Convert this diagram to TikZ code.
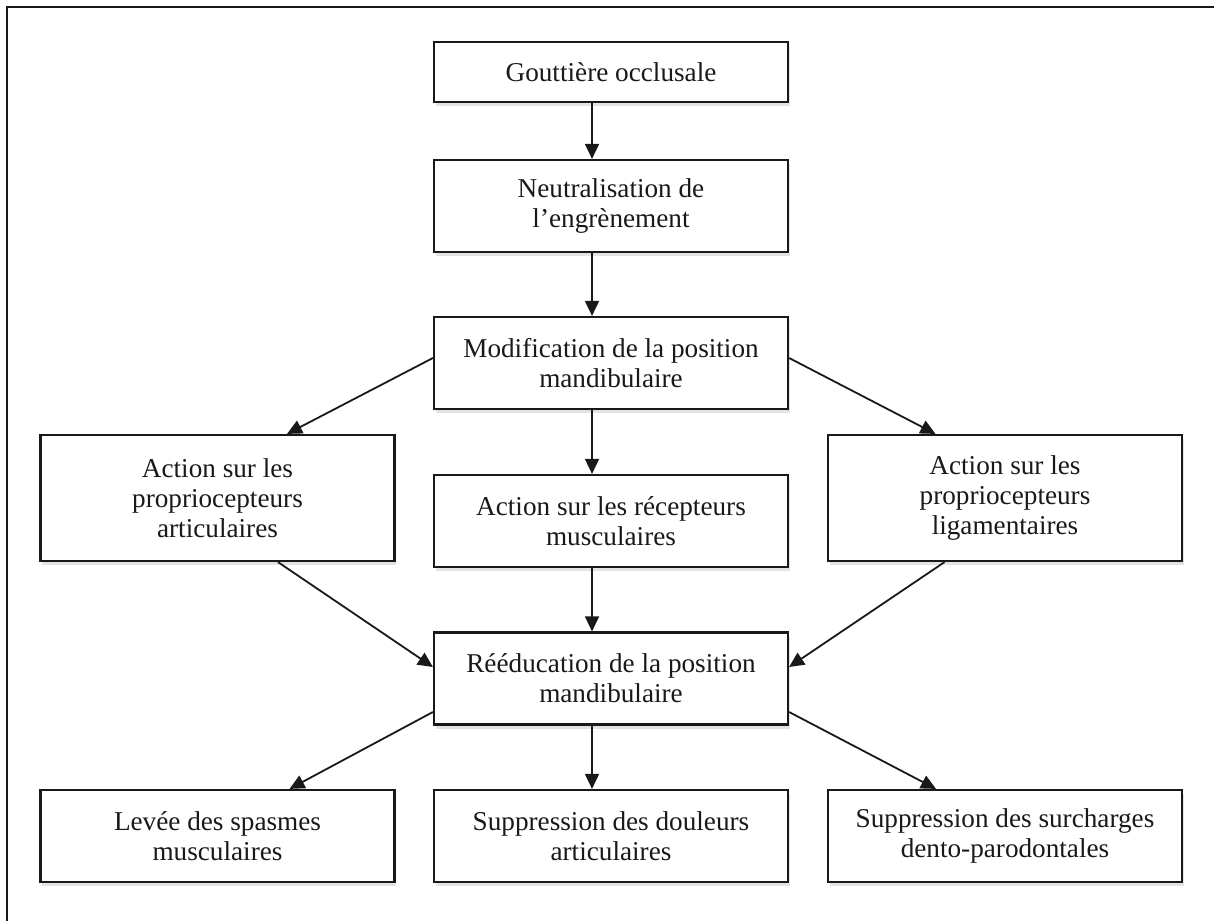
\documentclass[tikz,border=0pt]{standalone}
\usepackage{fontspec}
\setmainfont{Liberation Serif}
\usetikzlibrary{arrows.meta,shadows}
\begin{document}
\begin{tikzpicture}[x=0.5pt,y=-0.5pt,
  box/.style={draw=black!90, line width=1.1pt, fill=white, align=center,
    minimum width=177pt, inner sep=0pt, text=black!90,
    font=\fontsize{13.6}{15}\selectfont,
    drop shadow={opacity=0.22, shadow xshift=0.8pt, shadow yshift=-2pt}},
  boxS/.style={box, minimum height=46pt},
  boxL/.style={box, minimum height=63pt},
  boxT/.style={box, minimum height=30pt},
  arr/.style={draw=black!90, line width=0.9pt, -{Triangle[width=7pt,length=7.5pt]}},
  frame/.style={draw=black!90, line width=1pt}
]
\useasboundingbox (0,0) rectangle (1214,921);
\draw[frame] (7,921) -- (7,7) -- (1214,7);

\node[boxT] (g)  at (611,72)    {Gouttière occlusale};
\node[boxS] (n)  at (611,206)   {Neutralisation de\\l’engrènement};
\node[boxS] (m)  at (611,363)   {Modification de la position\\mandibulaire};
\node[boxL] (pa) at (217.5,498) {Action sur les\\propriocepteurs\\articulaires};
\node[boxS] (rm) at (611,521)   {Action sur les récepteurs\\musculaires};
\node[boxL] (pl) at (1005,498)  {Action sur les\\propriocepteurs\\ligamentaires};
\node[boxS] (r)  at (611,678.5) {Rééducation de la position\\mandibulaire};
\node[boxS] (b1) at (217.5,836) {Levée des spasmes\\musculaires};
\node[boxS] (b2) at (611,836)   {Suppression des douleurs\\articulaires};
\node[boxS] (b3) at (1005,836)  {Suppression des surcharges\\dento-parodontales};

\draw[arr] ([xshift=-9.5pt]g.south) -- ([xshift=-9.5pt]n.north);
\draw[arr] ([xshift=-9.5pt]n.south) -- ([xshift=-9.5pt]m.north);
\draw[arr] ([xshift=-9.5pt]m.south) -- ([xshift=-9.5pt]rm.north);
\draw[arr] ([xshift=-9.5pt]rm.south) -- ([xshift=-9.5pt]r.north);
\draw[arr] ([xshift=-9.5pt]r.south) -- ([xshift=-9.5pt]b2.north);

\draw[arr] ([yshift=2.5pt]m.west) -- ([xshift=34.75pt]pa.north);
\draw[arr] ([yshift=2.5pt]m.east) -- ([xshift=-34.75pt]pl.north);
\draw[arr] ([xshift=30.25pt]pa.south) -- ([yshift=5.75pt]r.west);
\draw[arr] ([xshift=-30.25pt]pl.south) -- ([yshift=5.75pt]r.east);
\draw[arr] ([yshift=-16.75pt]r.west) -- ([xshift=36pt]b1.north);
\draw[arr] ([yshift=-16.75pt]r.east) -- ([xshift=-34.5pt]b3.north);
\end{tikzpicture}
\end{document}
